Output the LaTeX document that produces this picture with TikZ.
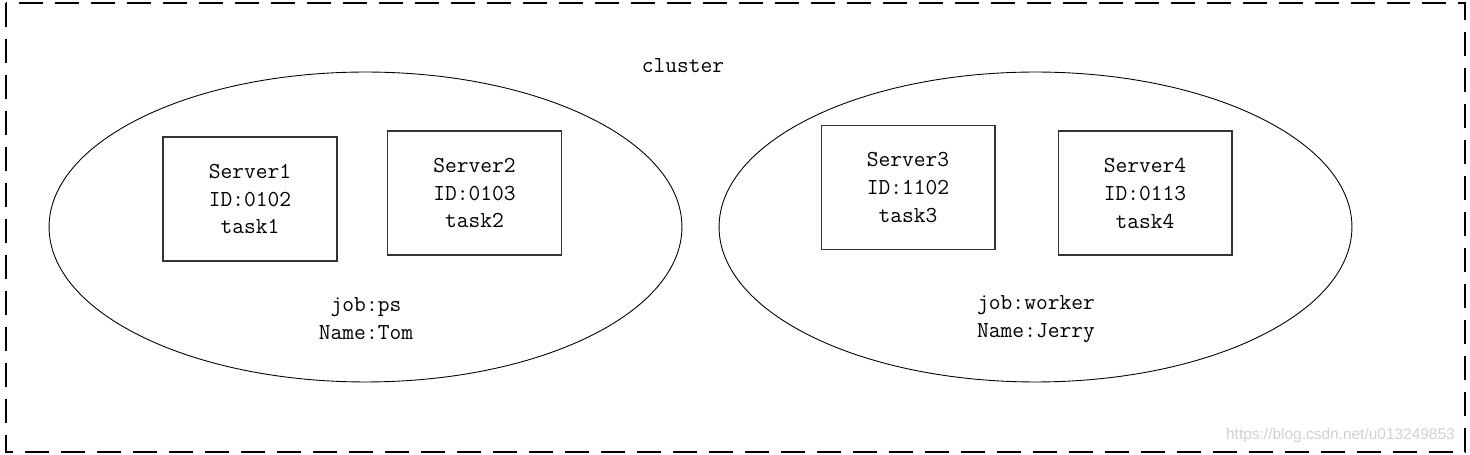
\documentclass[tikz,border=0pt]{standalone}
\usepackage{fontspec}
\newfontfamily\markfont{Liberation Sans}
\usetikzlibrary{shapes.geometric}
\tikzset{
	txt/.style={font=\ttfamily\fontsize{13}{15.9}\selectfont, align=center},
	server/.style={txt, draw, line width=0.6pt, color=black!80, text=black, minimum width=3.48cm, minimum height=2.48cm, inner sep=0pt},
	jobshape/.style={draw, ellipse, line width=0.5pt, minimum width=12.66cm, minimum height=6.2cm, inner sep=0pt},
	jobtext/.style={txt},
}

\begin{document}
\begin{tikzpicture}[x=0.02cm, y=-0.02cm]
		%%%%% START %%%%%
		\useasboundingbox (0, 0) rectangle (1470, 455);
		
		\draw[line width=1.1pt, dash pattern=on 0.48cm off 0.24cm] (6, 3) rectangle (1465, 452);
		\node[txt] (cluster) at (683, 66) {cluster};
		
		% job ps
		\node[jobshape] (ps) at (365.5, 227) {};
		\node[server] (server1) at (250, 199) {Server1\\ID:0102\\task1};
		\node[server] (server2) at (474.5, 193) {Server2\\ID:0103\\task2};
		\node[jobtext] (pstext) at (366, 319) {job:ps\\Name:Tom};
		
		% job worker
		\node[jobshape] (worker) at (1035.5, 227) {};
		\node[server] (server3) at (908, 187.5) {Server3\\ID:1102\\task3};
		\node[server] (server4) at (1145, 193) {Server4\\ID:0113\\task4};
		\node[jobtext] (workertext) at (1036, 319) {job:worker\\Name:Jerry};
		
		\node[anchor=east, color=black!18, font=\markfont\fontsize{8.8}{10}\selectfont] (mark) at (1461, 436) {https://blog.csdn.net/u013249853};
		%%%%% END %%%%%
	\end{tikzpicture}
\end{document}
